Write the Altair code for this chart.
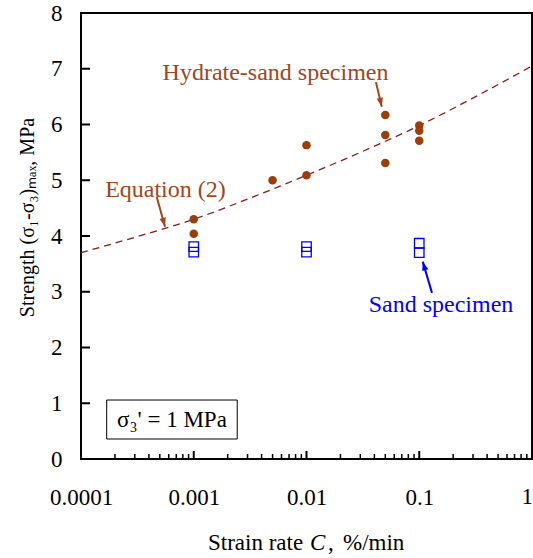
import altair as alt
import pandas as pd

# ---- data ----
hydrate_rate = [0.001, 0.001, 0.005, 0.01, 0.01, 0.05, 0.05, 0.05, 0.1, 0.1, 0.1]
hydrate_strength = [4.30, 4.04, 5.00, 5.63, 5.09, 6.17, 5.81, 5.31, 5.98, 5.89, 5.71]

sand_rate = [0.001, 0.001, 0.01, 0.01, 0.1, 0.1]
sand_strength = [3.81, 3.71, 3.81, 3.71, 3.87, 3.70]

eq_rate = [0.0001, 0.000316, 0.001, 0.00316, 0.01, 0.0316, 0.1, 0.316, 1.0]
eq_strength = [3.70, 3.99, 4.30, 4.68, 5.09, 5.52, 5.98, 6.50, 7.05]

x_tick_values = [0.0001, 0.001, 0.01, 0.1]
x_last_label = ["1"]
y_tick_values = [0, 1, 2, 3, 4, 5, 6, 7, 8]
y_inner_ticks = [1, 2, 3, 4, 5, 6, 7]
x_major_inner = [0.001, 0.01, 0.1]
x_minor_inner = [m * d for d in [0.0001, 0.001, 0.01, 0.1] for m in range(2, 10)]

label_text = ["Hydrate-sand specimen", "Equation (2)", "Sand specimen", "σ₃' = 1 MPa"]
label_x = [0.00531, 0.000561, 0.156, 0.000641]
label_y = [6.92, 4.825, 2.76, 0.70]
label_color = ["#A3451A", "#A3451A", "#0000FF", "#000000"]
label_size = [24, 24, 24, 23]

arrow_x = [0.000469, 0.0413, 0.1297]
arrow_y = [4.705, 6.76, 2.98]
arrow_x2 = [0.000556, 0.0465, 0.1074]
arrow_y2 = [4.167, 6.32, 3.54]
arrow_angle = [164.5, 167.0, 343.5]
arrow_color = ["#A3451A", "#A3451A", "#0000FF"]

box_x = [0.000169]
box_x2 = [0.00243]
box_y = [0.359]
box_y2 = [1.058]

FONT = "Liberation Serif"
BROWN = "#9C3D0C"

xscale = alt.Scale(type="log", domain=[0.0001, 1], nice=False)
yscale = alt.Scale(domain=[0, 8], nice=False, zero=False)

x_axis = alt.Axis(values=x_tick_values, format=".4~f", title=None, grid=False,
                  domain=False, ticks=False, labelFont=FONT, labelFontSize=23,
                  labelColor="black", labelPadding=27, labelFlush=False,
                  labelOverlap=False, labelBound=False)
y_axis = alt.Axis(values=y_tick_values, format="d", title="Strength (σ₁-σ₃)ₘₐₓ, MPa",
                  grid=False, domain=False, ticks=False, labelFont=FONT,
                  labelFontSize=23, labelColor="black", labelPadding=19,
                  titleFont=FONT, titleFontSize=20, titleFontWeight="normal",
                  titleColor="black", titleX=-54, titleY=204, titleAngle=270,
                  titleBaseline="middle", titleAlign="center")

eq_df = pd.DataFrame({"rate": eq_rate, "s": eq_strength})
hyd_df = pd.DataFrame({"rate": hydrate_rate, "s": hydrate_strength})
sand_df = pd.DataFrame({"rate": sand_rate, "s": sand_strength})
lab_df = pd.DataFrame({"x": label_x, "y": label_y, "t": label_text, "c": label_color,
                       "fs": label_size})
arr_df = pd.DataFrame({"x": arrow_x, "y": arrow_y, "x2": arrow_x2, "y2": arrow_y2,
                       "a": arrow_angle, "c": arrow_color})
box_df = pd.DataFrame({"x": box_x, "x2": box_x2, "y": box_y, "y2": box_y2})

eq_line = alt.Chart(eq_df).mark_line(color="#8B1A1A", strokeWidth=1.3,
                                     strokeDash=[7, 5], interpolate="monotone").encode(
    x=alt.X("rate:Q", scale=xscale, axis=x_axis),
    y=alt.Y("s:Q", scale=yscale, axis=y_axis),
)

hyd = alt.Chart(hyd_df).mark_point(shape="circle", filled=True, size=72,
                                   color=BROWN, opacity=1).encode(
    x=alt.X("rate:Q", scale=xscale), y=alt.Y("s:Q", scale=yscale))

sand = alt.Chart(sand_df).mark_point(shape="square", filled=False, size=90,
                                     color="#0000FF", strokeWidth=1.3, opacity=1).encode(
    x=alt.X("rate:Q", scale=xscale), y=alt.Y("s:Q", scale=yscale))

box = alt.Chart(box_df).mark_rect(fill="white", stroke="black", strokeWidth=1).encode(
    x=alt.X("x:Q", scale=xscale), x2="x2:Q",
    y=alt.Y("y:Q", scale=yscale), y2="y2:Q")

labels = alt.Chart(lab_df).mark_text(font=FONT, align="center",
                                     baseline="middle").encode(
    x=alt.X("x:Q", scale=xscale), y=alt.Y("y:Q", scale=yscale),
    text="t:N", color=alt.Color("c:N", scale=None),
    size=alt.Size("fs:Q", scale=None))

arrow_lines = alt.Chart(arr_df).mark_rule(strokeWidth=2).encode(
    x=alt.X("x:Q", scale=xscale), x2="x2:Q",
    y=alt.Y("y:Q", scale=yscale), y2="y2:Q",
    color=alt.Color("c:N", scale=None))

arrow_heads = alt.Chart(arr_df).mark_point(shape="M0,0L0.8,2.2L-0.8,2.2Z", filled=True,
                                           size=64, opacity=1).encode(
    x=alt.X("x2:Q", scale=xscale), y=alt.Y("y2:Q", scale=yscale),
    angle=alt.Angle("a:Q", scale=None),
    color=alt.Color("c:N", scale=None))

ytick_df = pd.DataFrame({"v": y_inner_ticks})
yticks = alt.Chart(ytick_df).mark_rule(color="black", strokeWidth=2).encode(
    x=alt.value(0), x2=alt.value(9), y=alt.Y("v:Q", scale=yscale))

xmaj_df = pd.DataFrame({"v": x_major_inner})
xmaj = alt.Chart(xmaj_df).mark_rule(color="black", strokeWidth=2).encode(
    x=alt.X("v:Q", scale=xscale), y=alt.value(446), y2=alt.value(438))

xmin_df = pd.DataFrame({"v": x_minor_inner})
xmin = alt.Chart(xmin_df).mark_rule(color="black", strokeWidth=1.5).encode(
    x=alt.X("v:Q", scale=xscale), y=alt.value(446), y2=alt.value(441))

last_lab = alt.Chart(pd.DataFrame({"t": x_last_label})).mark_text(
    font=FONT, fontSize=23, align="right", baseline="top", color="black").encode(
    x=alt.value(452), y=alt.value(473), text="t:N")


def title_piece(txt, xpos, italic=False):
    kw = dict(font=FONT, fontSize=23, align="left", baseline="alphabetic", color="black")
    if italic:
        kw["fontStyle"] = "italic"
    return alt.Chart(pd.DataFrame({"t": [txt]})).mark_text(**kw).encode(
        x=alt.value(xpos), y=alt.value(537), text="t:N")


t1 = title_piece("Strain rate", 127)
t2 = title_piece("C", 229, italic=True)
t3 = title_piece(",", 247)
t4 = title_piece("%/min", 262)

chart = alt.layer(eq_line, yticks, xmaj, xmin, box, hyd, sand, arrow_lines, arrow_heads,
                  labels, last_lab, t1, t2, t3, t4).properties(
    width=451, height=446,
    padding={"left": 81, "top": 13, "right": 1, "bottom": 99},
    autosize=alt.AutoSizeParams(type="none"),
    background="white",
).configure_view(stroke="black", strokeWidth=2)

chart.save("out.html", embed_options={"renderer": "svg", "actions": False})
